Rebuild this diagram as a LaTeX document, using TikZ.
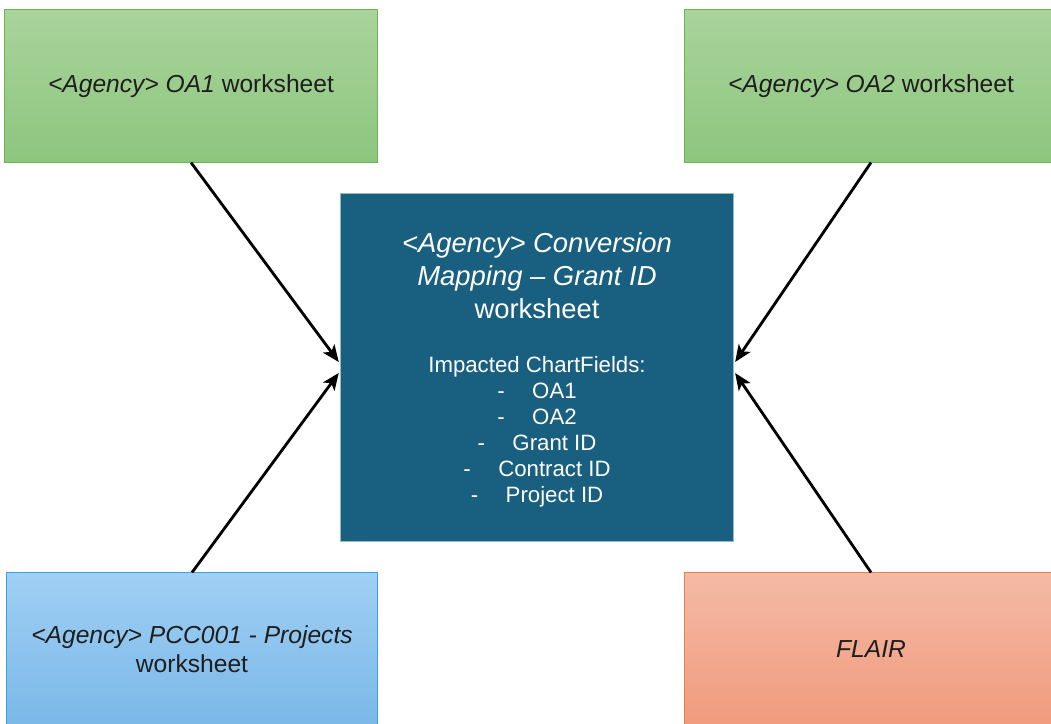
\documentclass[tikz,border=0pt]{standalone}
\usepackage{fontspec}
\setmainfont{Liberation Sans}
\usetikzlibrary{arrows.meta,positioning}
\definecolor{greentop}{RGB}{169,212,155}
\definecolor{greenbot}{RGB}{141,197,126}
\definecolor{greenline}{RGB}{108,182,78}
\definecolor{mapblue}{RGB}{24,95,128}
\definecolor{mapline}{RGB}{150,185,205}
\definecolor{bluetop}{RGB}{160,207,244}
\definecolor{bluebot}{RGB}{122,184,232}
\definecolor{blueline}{RGB}{60,162,222}
\definecolor{salmontop}{RGB}{244,186,165}
\definecolor{salmonbot}{RGB}{240,155,125}
\definecolor{salmonline}{RGB}{234,126,76}
\definecolor{sheettext}{RGB}{30,30,30}

\begin{document}
\begin{tikzpicture}[x=0.025cm, y=-0.025cm,
    sheet/.style={draw, line width=0.7pt, minimum width=9.3cm, minimum height=3.8cm,
        inner sep=0pt, text=sheettext, align=center, font=\fontsize{17.5}{21}\selectfont},
    feed/.style={-{Stealth[length=12pt, width=10pt, inset=3pt]}, line width=2pt, shorten >=2pt}]
    \useasboundingbox (0, 0) rectangle (1051, 723);
    \clip (0, 0) rectangle (1051, 723);
    % Source worksheets
    \node[sheet, draw=greenline, top color=greentop, bottom color=greenbot] (oa1) at (191, 86)
        {\textit{<Agency> OA1} worksheet};
    \node[sheet, draw=greenline, top color=greentop, bottom color=greenbot] (oa2) at (871, 86)
        {\textit{<Agency> OA2} worksheet};
    \node[sheet, minimum width=9.25cm, draw=blueline, top color=bluetop, bottom color=bluebot] (pcc) at (192, 649)
        {\textit{<Agency> PCC001 - Projects}\\worksheet};
    \node[sheet, draw=salmonline, top color=salmontop, bottom color=salmonbot] (flair) at (871, 649)
        {\textit{FLAIR}};
    % Conversion mapping worksheet
    \node[draw=mapline, fill=mapblue, line width=0.7pt, minimum width=9.8cm, minimum height=8.675cm] (map) at (537, 367.5) {};
    \node[text=white, align=center, font=\fontsize{19.5}{23.5}\selectfont] (maptitle) at (537, 276)
        {\textit{<Agency> Conversion}\\\textit{Mapping -- Grant ID}\\worksheet};
    \node[text=white, align=center, font=\fontsize{15.8}{18.5}\selectfont] (mapfields) at (537, 432)
        {Impacted ChartFields:\\
         -\hspace{19.6pt}OA1\\
         -\hspace{19.6pt}OA2\\
         -\hspace{19.6pt}Grant ID\\
         -\hspace{19.6pt}Contract ID\\
         -\hspace{19.6pt}Project ID};
    % Arrows into the mapping
    \draw[feed] (oa1.south) -- ([yshift=0.08cm]map.west);
    \draw[feed] (pcc.north) -- ([yshift=-0.08cm]map.west);
    \draw[feed] (oa2.south) -- ([yshift=0.08cm]map.east);
    \draw[feed] (flair.north) -- ([yshift=-0.08cm]map.east);
\end{tikzpicture}
\end{document}
